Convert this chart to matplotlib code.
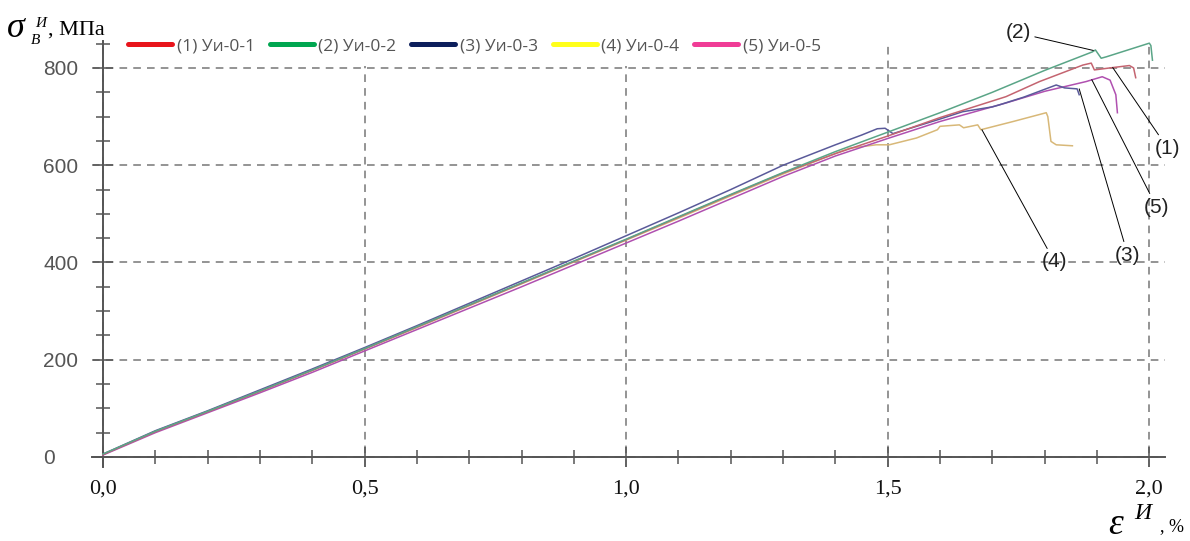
import matplotlib
matplotlib.use("Agg")
import matplotlib.pyplot as plt
from matplotlib.lines import Line2D

plt.rcParams["font.family"] = ["Liberation Sans", "DejaVu Sans"]

# --- data (strain %, stress MPa) ---
strain_1 = [0, 0.1, 0.2, 0.3, 0.4, 0.5, 0.6, 0.7, 0.8, 0.9, 1.0, 1.1, 1.2, 1.3, 1.4,
            1.5, 1.6, 1.726, 1.79, 1.873, 1.889, 1.895, 1.924, 1.962, 1.970, 1.974]
stress_1 = [5, 52, 93, 135, 178, 222, 267, 312, 357, 402, 447, 493, 539, 584, 624,
            660, 698, 741, 772, 806, 810, 796, 800, 805, 800, 780]

strain_2 = [0, 0.1, 0.2, 0.3, 0.4, 0.5, 0.6, 0.7, 0.8, 0.9, 1.0, 1.1, 1.2, 1.3, 1.4,
            1.5, 1.6, 1.7, 1.8, 1.891, 1.897, 1.908, 1.918, 2.0, 2.003, 2.006]
stress_2 = [6, 53, 94, 136, 179, 223, 268, 313, 358, 403, 448, 494, 540, 585, 628,
            668, 708, 750, 795, 833, 837, 820, 823, 851, 846, 816]

strain_3 = [0, 0.1, 0.2, 0.3, 0.4, 0.5, 0.6, 0.7, 0.8, 0.9, 1.0, 1.1, 1.2, 1.3, 1.4,
            1.45, 1.48, 1.495, 1.51, 1.6, 1.643, 1.70, 1.713, 1.76, 1.822, 1.838, 1.862, 1.866]
stress_3 = [6, 54, 95, 138, 181, 225, 270, 316, 362, 408, 455, 502, 550, 600, 642,
            662, 675, 676, 665, 695, 710, 720, 724, 740, 765, 759, 757, 745]

strain_4 = [0, 0.1, 0.2, 0.3, 0.4, 0.5, 0.6, 0.7, 0.8, 0.9, 1.0, 1.1, 1.2, 1.3, 1.4,
            1.427, 1.478, 1.503, 1.555, 1.595, 1.6, 1.637, 1.645, 1.672, 1.678, 1.74,
            1.803, 1.806, 1.812, 1.822, 1.853]
stress_4 = [5, 52, 93, 135, 178, 222, 266, 311, 356, 401, 446, 491, 537, 582, 624,
            635, 642, 642, 656, 673, 680, 683, 677, 683, 673, 690,
            708, 700, 649, 642, 640]

strain_5 = [0, 0.1, 0.2, 0.3, 0.4, 0.5, 0.6, 0.7, 0.8, 0.9, 1.0, 1.1, 1.2, 1.3, 1.4,
            1.5, 1.6, 1.726, 1.8, 1.879, 1.91, 1.925, 1.936, 1.939]
stress_5 = [4, 50, 91, 132, 174, 218, 262, 306, 350, 395, 440, 485, 531, 577, 619,
            655, 690, 728, 752, 772, 782, 775, 745, 708]

legend_labels = ["(1) Уи-0-1", "(2) Уи-0-2", "(3) Уи-0-3", "(4) Уи-0-4", "(5) Уи-0-5"]
legend_colors = ["#e8141b", "#00a650", "#0d1f5c", "#ffff1a", "#f03c96"]
curve_colors = ["#c46470", "#5aa587", "#5a5a9a", "#d8b878", "#b050b0"]

x_ticks = [0.0, 0.5, 1.0, 1.5, 2.0]
x_ticklabels = ["0,0", "0,5", "1,0", "1,5", "2,0"]
y_ticks = [0, 200, 400, 600, 800]

# label, text position, point on curve
callouts = [
    ("(2)", (1.749, 872), (1.893, 836)),
    ("(1)", (2.035, 635), (1.930, 801)),
    ("(5)", (2.014, 514), (1.890, 776)),
    ("(3)", (1.959, 415), (1.866, 757)),
    ("(4)", (1.819, 401), (1.680, 673)),
]

fig = plt.figure(figsize=(11.9, 5.41), dpi=100)
ax = fig.add_axes([0.0773, 0.1373, 0.9017, 0.7865])

series = [(strain_4, stress_4), (strain_5, stress_5), (strain_3, stress_3),
          (strain_1, stress_1), (strain_2, stress_2)]
order = [3, 4, 2, 0, 1]
for (sx, sy), i in zip(series, order):
    ax.plot(sx, sy, color=curve_colors[i], lw=1.1, zorder=3)

ax.set_xlim(-0.021, 2.03)
ax.set_ylim(-20, 855)

for side in ["top", "right"]:
    ax.spines[side].set_visible(False)
ax.spines["left"].set_position(("data", 0))
ax.spines["bottom"].set_position(("data", 0))
for side in ["left", "bottom"]:
    ax.spines[side].set_color("#555555")
    ax.spines[side].set_linewidth(1.4)

ax.set_xticks(x_ticks)
ax.set_xticklabels(x_ticklabels, family="Liberation Serif", fontsize=16, color="#111111")
ax.set_xticks([v / 10 for v in range(0, 21)], minor=True)
ax.set_yticks(y_ticks)
ax.set_yticklabels([str(v) for v in y_ticks], fontsize=15, color="#555555")
ax.set_yticks(list(range(0, 851, 50)), minor=True)
ax.tick_params(which="major", direction="inout", length=14, width=1.1, color="#555555")
ax.tick_params(which="minor", direction="inout", length=10, width=1.1, color="#555555")
ax.tick_params(axis="x", which="major", pad=9)
ax.tick_params(axis="y", which="major", pad=36)
for lab in ax.get_yticklabels():
    lab.set_horizontalalignment("left")

ax.grid(True, which="major", ls=(0, (5, 4)), color="#777777", lw=1.1, zorder=1)

for text, txy, xy in callouts:
    ax.annotate(text, xy=xy, xytext=txy, ha="center", va="center", fontsize=15,
                color="#222222", annotation_clip=False,
                arrowprops=dict(arrowstyle="-", color="black", lw=0.7,
                                shrinkA=1, shrinkB=0))

handles = [Line2D([], [], color=c, lw=3.6, solid_capstyle="round") for c in legend_colors]
leg = fig.legend(handles, legend_labels, ncol=5, loc="center left",
                 bbox_to_anchor=(116 / 1190, 1 - 46 / 541), frameon=True,
                 handlelength=2.55, handletextpad=0.25, columnspacing=0.85,
                 borderpad=0.7, borderaxespad=0,
                 prop={"family": "Open Sans", "size": 12.5})
leg.get_frame().set_edgecolor("none")
leg.get_frame().set_facecolor("white")
leg.get_frame().set_alpha(1)
for t in leg.get_texts():
    t.set_color("#555555")

# axis titles built from pieces (sigma with sub/superscript, epsilon with superscript)
serif = "Liberation Serif"
fig.text(7 / 1190, 1 - 37 / 541, "σ", family=serif, style="italic", fontsize=26, va="baseline")
fig.text(35 / 1190, 1 - 27 / 541, "И", family=serif, style="italic", fontsize=11, va="baseline")
fig.text(31 / 1190, 1 - 44 / 541, "В", family=serif, style="italic", fontsize=11, va="baseline")
fig.text(48 / 1190, 1 - 35 / 541, ", МПа", family=serif, fontsize=16, va="baseline")

fig.text(1108 / 1190, 1 - 534 / 541, "ε", family=serif, style="italic", fontsize=27, va="baseline")
fig.text(1134 / 1190, 1 - 519 / 541, "И", family=serif, style="italic", fontsize=17, va="baseline")
fig.text(1160 / 1190, 1 - 531 / 541, ", %", family=serif, fontsize=13, va="baseline")

fig.savefig("out.png", dpi=100)
